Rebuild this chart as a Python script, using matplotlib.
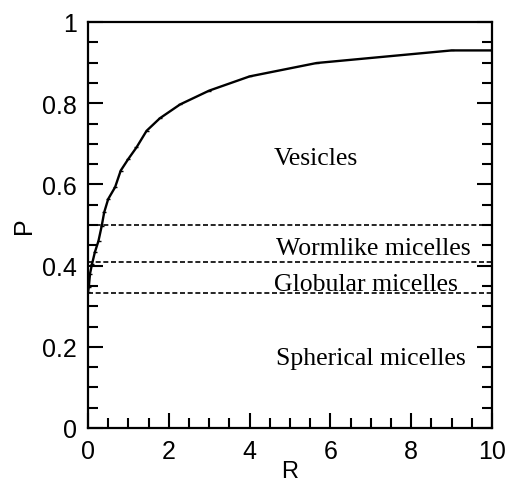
import matplotlib
matplotlib.use("Agg")
import matplotlib.pyplot as plt
from matplotlib.ticker import MultipleLocator

# Curve data
R = [0.0, 0.02, 0.05, 0.1, 0.17, 0.26, 0.34, 0.40, 0.50, 0.67, 0.81, 1.0, 1.2,
     1.45, 1.78, 2.28, 3.0, 4.0, 5.66, 9.0, 10.0]
P = [0.335, 0.347, 0.38, 0.404, 0.433, 0.461, 0.498, 0.531, 0.564, 0.593, 0.634,
     0.663, 0.691, 0.732, 0.763, 0.797, 0.831, 0.866, 0.899, 0.930, 0.930]

# Boundary lines
boundaries = [0.5, 0.41, 0.333]

# Region labels
region_names = ["Vesicles", "Wormlike micelles", "Globular micelles", "Spherical micelles"]
region_x = [4.6, 4.65, 4.6, 4.65]
region_y = [0.650, 0.429, 0.341, 0.158]

x_ticks = [0, 2, 4, 6, 8, 10]
y_ticks = [0, 0.2, 0.4, 0.6, 0.8, 1.0]
y_tick_labels = ["0", "0.2", "0.4", "0.6", "0.8", "1"]

fig = plt.figure(figsize=(5.07, 4.85), dpi=100)
ax = fig.add_axes([88/507, (485-429)/485, 404/507, 406/485])

sans = "Liberation Sans"
serif = "Liberation Serif"

for b in boundaries:
    ax.plot([0, 10], [b, b], color="black", lw=1.2, ls=(0, (3, 1.6)))

ax.plot(R, P, color="black", lw=1.7, marker="_", markersize=2.5, markeredgewidth=1)

for name, x, y in zip(region_names, region_x, region_y):
    ax.text(x, y, name, family=serif, fontsize=18.5, ha="left", va="baseline")

ax.set_xlim(0, 10)
ax.set_ylim(0, 1)
ax.xaxis.set_major_locator(MultipleLocator(2))
ax.xaxis.set_minor_locator(MultipleLocator(0.5))
ax.yaxis.set_major_locator(MultipleLocator(0.2))
ax.yaxis.set_minor_locator(MultipleLocator(0.05))
ax.set_xticks(x_ticks)
ax.set_yticks(y_ticks)
ax.set_yticklabels(y_tick_labels)

ax.tick_params(which="both", direction="in", top=False, right=True, width=1.5)
ax.tick_params(which="major", length=11, labelsize=18, pad=8)
ax.tick_params(which="minor", length=7)
for lab in ax.get_xticklabels() + ax.get_yticklabels():
    lab.set_family(sans)

for s in ax.spines.values():
    s.set_linewidth(1.6)

ax.set_xlabel("R", family=sans, fontsize=17, labelpad=-2)
ax.set_ylabel("P", family=sans, fontsize=18, labelpad=4)

fig.savefig("out.png", dpi=100)
